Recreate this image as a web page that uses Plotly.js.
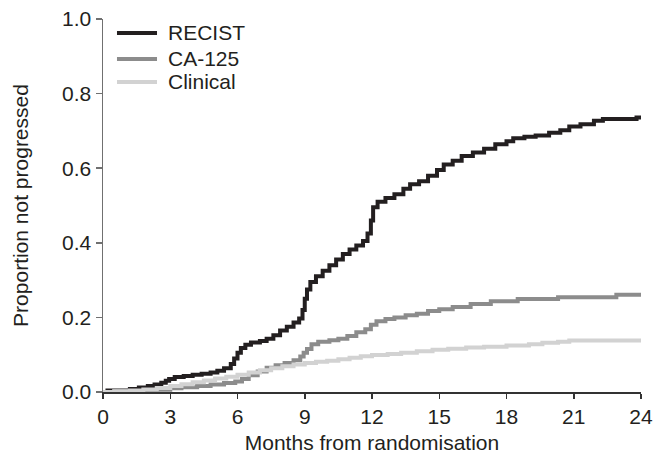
<!DOCTYPE html>
<html>
<head>
<meta charset="utf-8">
<script src="https://cdn.plot.ly/plotly-3.0.1.min.js"></script>
<style>html,body{margin:0;padding:0;background:#fff;}#chart{width:655px;height:457px;}</style>
</head>
<body>
<div id="chart"></div>
<script>
var seriesNames = ["RECIST", "CA-125", "Clinical"];

var recistMonths = [0,0.2,1.2,1.6,2.0,2.3,2.6,2.8,2.95,3.2,3.6,4.0,4.4,4.8,5.1,5.4,5.7,5.85,6.0,6.15,6.35,6.6,7.0,7.3,7.6,7.9,8.2,8.5,8.75,8.9,9.0,9.1,9.25,9.5,9.8,10.1,10.4,10.7,11.0,11.3,11.6,11.8,11.95,12.05,12.25,12.6,13.0,13.4,13.7,14.1,14.5,14.9,15.2,15.6,16.0,16.5,17.0,17.5,18.0,18.3,18.8,19.3,19.9,20.4,20.8,21.3,21.9,22.3,23.8,24.0];
var recistValues = [0,0.004,0.008,0.012,0.016,0.02,0.025,0.03,0.035,0.04,0.043,0.046,0.049,0.052,0.057,0.064,0.075,0.09,0.105,0.118,0.127,0.133,0.137,0.143,0.152,0.165,0.175,0.186,0.197,0.22,0.25,0.275,0.295,0.31,0.325,0.34,0.355,0.37,0.382,0.393,0.405,0.425,0.46,0.495,0.51,0.52,0.53,0.545,0.557,0.565,0.58,0.595,0.61,0.62,0.633,0.642,0.652,0.664,0.672,0.68,0.684,0.688,0.695,0.702,0.712,0.718,0.727,0.732,0.736,0.736];

var ca125Months = [0,0.5,1.5,2.4,3.0,3.5,4.2,4.8,5.4,5.9,6.2,6.5,6.9,7.3,7.7,8.1,8.5,8.8,8.95,9.1,9.3,9.6,10.1,10.5,10.9,11.3,11.7,11.95,12.2,12.6,13.0,13.5,14.0,14.5,15.0,15.6,16.4,17.3,18.5,20.3,22.9,24.0];
var ca125Values = [0,0.002,0.003,0.006,0.01,0.013,0.016,0.02,0.024,0.028,0.035,0.045,0.055,0.065,0.072,0.078,0.085,0.095,0.105,0.115,0.128,0.135,0.139,0.143,0.15,0.16,0.168,0.18,0.19,0.196,0.2,0.206,0.21,0.217,0.222,0.228,0.236,0.243,0.249,0.254,0.261,0.261];

var clinicalMonths = [0,0.5,1.2,1.8,2.4,3.0,3.5,4.0,4.5,5.0,5.5,6.0,6.5,7.0,7.5,8.0,8.5,9.0,9.5,10.0,10.5,11.0,11.5,12.0,12.7,13.3,14.0,14.7,15.4,16.2,17.0,18.0,19.0,19.6,20.3,20.8,24.0];
var clinicalValues = [0,0.002,0.004,0.007,0.011,0.016,0.021,0.026,0.031,0.036,0.041,0.046,0.052,0.058,0.064,0.069,0.074,0.078,0.081,0.084,0.088,0.092,0.096,0.099,0.102,0.105,0.109,0.113,0.116,0.119,0.121,0.125,0.128,0.132,0.135,0.138,0.138];

var xTicks = [0,3,6,9,12,15,18,21,24];
var yTicks = [0,0.2,0.4,0.6,0.8,1.0];
var yTickLabels = ["0.0","0.2","0.4","0.6","0.8","1.0"];

var colors = ["#231f20", "#8c8c8c", "#d2d2d2"];
var font = "Liberation Sans, Arial, Helvetica, sans-serif";
var textColor = "#231f20";

function trace(x, y, i) {
  return {x: x, y: y, name: seriesNames[i], type: "scatter", mode: "lines",
    line: {shape: "hv", color: colors[i], width: 4}, hoverinfo: "skip", showlegend: false};
}

var data = [
  trace(recistMonths, recistValues, 0),
  trace(ca125Months, ca125Values, 1),
  trace(clinicalMonths, clinicalValues, 2)
];

// legend key, placed in paper coordinates
var legendY = [0.9625, 0.8928, 0.8311];
var shapes = [], annotations = [];
for (var i = 0; i < seriesNames.length; i++) {
  shapes.push({type: "line", xref: "paper", yref: "paper", x0: 0.026, x1: 0.1004,
    y0: legendY[i], y1: legendY[i], line: {color: colors[i], width: 4}});
  annotations.push({xref: "paper", yref: "paper", x: 0.117, y: legendY[i], xanchor: "left",
    yanchor: "middle", text: seriesNames[i], showarrow: false,
    font: {family: font, size: 21, color: textColor}});
}

var layout = {
  width: 655, height: 457,
  margin: {l: 103, r: 14, t: 19, b: 65},
  paper_bgcolor: "#fff", plot_bgcolor: "#fff",
  font: {family: font, size: 21, color: textColor},
  showlegend: false,
  shapes: shapes,
  annotations: annotations,
  xaxis: {range: [0, 24], tickvals: xTicks, ticktext: xTicks.map(String),
    showgrid: false, zeroline: false, showline: true, linecolor: "#333", linewidth: 1.5,
    ticks: "outside", ticklen: 5, tickwidth: 1.5, tickcolor: "#333",
    tickfont: {family: font, size: 21, color: textColor},
    title: {text: "Months from randomisation", font: {family: font, size: 21, color: textColor}, standoff: 8}},
  yaxis: {range: [0, 1], tickvals: yTicks, ticktext: yTickLabels,
    showgrid: false, zeroline: false, showline: true, linecolor: "#707070", linewidth: 1.5,
    ticks: "outside", ticklen: 6, tickwidth: 1.5, tickcolor: "#707070",
    tickfont: {family: font, size: 21, color: textColor},
    title: {text: "Proportion not progressed", font: {family: font, size: 21, color: textColor}, standoff: 27}}
};

Plotly.newPlot("chart", data, layout, {staticPlot: true, displayModeBar: false});
</script>
</body>
</html>
